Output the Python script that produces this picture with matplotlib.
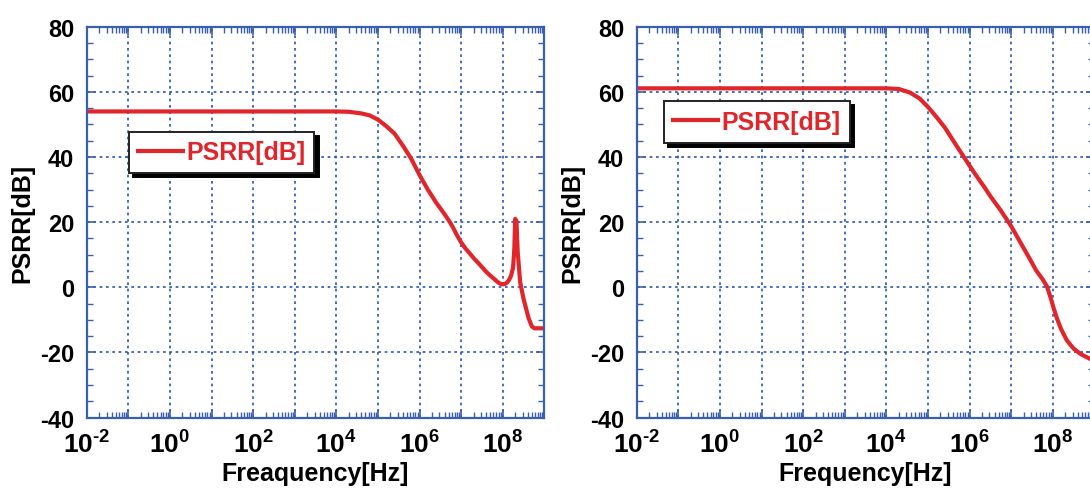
import numpy as np
import matplotlib
matplotlib.use("Agg")
import matplotlib.pyplot as plt
from matplotlib.ticker import FixedLocator, MultipleLocator, FuncFormatter, LogLocator

plt.rcParams['font.family'] = ['Liberation Sans', 'DejaVu Sans']
plt.rcParams['font.weight'] = 'bold'
plt.rcParams['mathtext.fontset'] = 'custom'
plt.rcParams['mathtext.rm'] = 'Liberation Sans:bold'
plt.rcParams['mathtext.bf'] = 'Liberation Sans:bold'
plt.rcParams['axes.unicode_minus'] = False

# data: log10(frequency) and PSRR in dB
left_logf = [-2, 4.0, 4.3, 4.6, 4.8, 5.0, 5.2, 5.4, 5.6, 5.8, 6.0, 6.2, 6.4, 6.6, 6.73, 6.8,
             6.9, 7.0, 7.1, 7.2, 7.3, 7.46, 7.6, 7.7, 7.8, 7.88, 7.94, 8.0, 8.05, 8.1, 8.15,
             8.2, 8.25, 8.28, 8.30, 8.33, 8.36, 8.42, 8.5, 8.62, 8.7, 8.76, 9.0]
left_db = [54, 54, 53.9, 53.4, 52.8, 51.5, 49.5, 47.2, 43.5, 39.5, 34.5, 30.0, 26.0, 22.5, 20.0, 18.5,
           16.0, 13.8, 12.0, 10.5, 9.0, 6.8, 4.8, 3.6, 2.5, 1.6, 1.1, 0.9, 1.0, 1.4, 2.2,
           3.5, 6.0, 12.0, 21.0, 20.5, 11.0, 1.5, -3.5, -9.4, -12.0, -12.6, -12.6]

right_logf = [-2, 4.0, 4.3, 4.57, 4.8, 5.0, 5.2, 5.41, 5.6, 5.83, 6.04, 6.2, 6.35, 6.5, 6.74, 7.0,
              7.2, 7.45, 7.6, 7.75, 7.86, 7.95, 8.02, 8.1, 8.2, 8.34, 8.5, 8.67, 8.9, 9.0]
right_db = [61.1, 61.1, 60.9, 59.8, 58.0, 55.4, 52.4, 49.0, 45.2, 40.7, 36.6, 33.6, 30.9, 28.0, 23.8, 18.8,
            14.3, 8.7, 5.2, 2.6, 0.3, -3.2, -6.3, -9.5, -12.8, -16.3, -18.8, -20.5, -22.0, -22.6]

x_labels = ['Freaquency[Hz]', 'Frequency[Hz]']
legend_label = 'PSRR[dB]'

red = '#e0252b'
blue = '#3b5fb0'
grid_blue = '#2a55b5'

fig = plt.figure(figsize=(10.9, 4.89), dpi=100)
W, H = 1090, 489

def decade_label(v, pos):
    e = int(round(np.log10(v)))
    if e % 2:
        return ''
    if e < 0:
        return r'$\mathbf{10^{\text{-}%d}}$' % (-e)
    return r'$\mathbf{10^{%d}}$' % e

def setup(ax, xlabel):
    ax.set_xscale('log')
    ax.set_xlim(1e-2, 1e9)
    ax.set_ylim(-40, 80)
    ax.xaxis.set_major_locator(FixedLocator([10.0 ** e for e in range(-2, 10)]))
    ax.xaxis.set_minor_locator(LogLocator(base=10, subs=np.arange(2, 10), numticks=50))
    ax.xaxis.set_major_formatter(FuncFormatter(decade_label))
    ax.yaxis.set_major_locator(MultipleLocator(20))
    ax.yaxis.set_minor_locator(MultipleLocator(5))
    ax.tick_params(which='both', direction='in', top=True, right=True, color=blue)
    ax.tick_params(which='major', length=6, width=1.2)
    ax.tick_params(which='minor', length=4, width=1.0)
    ax.tick_params(axis='y', which='major', labelsize=17, pad=9)
    ax.tick_params(axis='x', which='major', labelsize=19, pad=9)
    for s in ax.spines.values():
        s.set_color(blue)
        s.set_linewidth(1.6)
    ax.grid(True, which='major', color=grid_blue, linestyle=(0, (1.6, 2.2)), linewidth=1.2)
    ax.set_xlabel(xlabel, fontsize=18, fontweight='bold', labelpad=3)
    ax.set_ylabel('PSRR[dB]', fontsize=18, fontweight='bold', labelpad=4)

panels = [
    (86.7, left_logf, left_db, x_labels[0], (129, 132.7)),
    (636.7, right_logf, right_db, x_labels[1], (664.3, 102.3)),
]
for x0, logf, db, xlabel, (lx, ly) in panels:
    ax = fig.add_axes([x0 / W, (H - 418.5) / H, 457.6 / W, 390.7 / H])
    setup(ax, xlabel)
    ax.plot(10.0 ** np.array(logf), db, color=red, linewidth=3.0, label=legend_label,
            solid_joinstyle='round')
    leg = ax.legend(loc='upper left', bbox_to_anchor=(lx / W, 1 - ly / H),
                    bbox_transform=fig.transFigure, borderaxespad=0,
                    fontsize=18, labelcolor='linecolor', fancybox=False,
                    shadow={'color': 'black', 'alpha': 1, 'ox': 3, 'oy': -3},
                    framealpha=1, edgecolor='#222222', borderpad=0.35,
                    handlelength=1.8, handletextpad=0.15)
    leg.get_frame().set_linewidth(1.4)
    for t in leg.get_texts():
        t.set_fontweight('bold')

fig.savefig('out.png', dpi=100)
